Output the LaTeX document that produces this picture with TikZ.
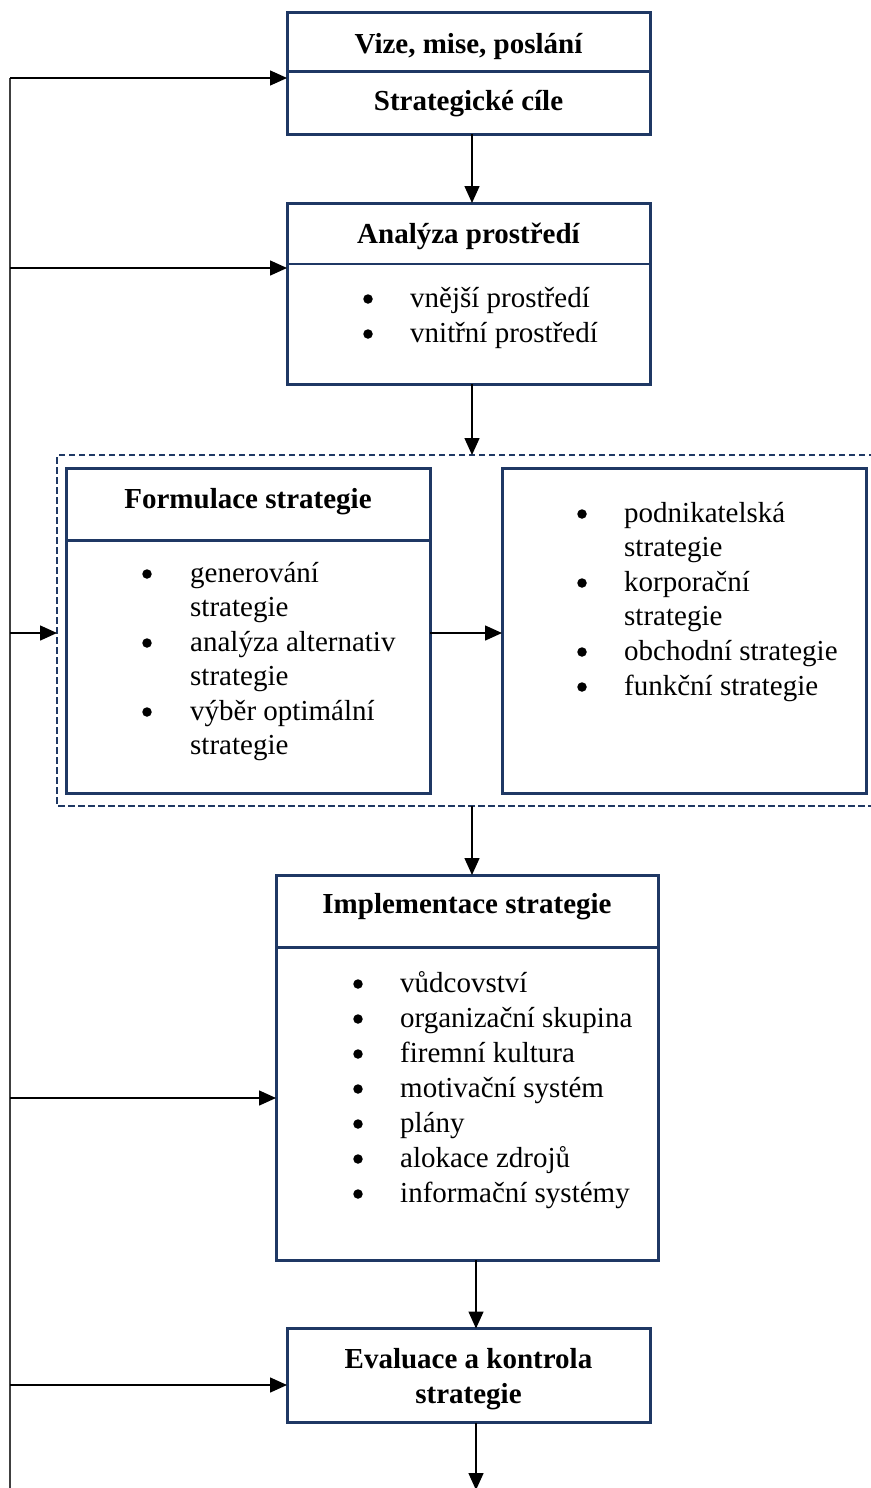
\documentclass[tikz,border=0pt]{standalone}
\usepackage{fontspec}
\setmainfont{Liberation Serif}
\usetikzlibrary{arrows.meta}
\definecolor{navy}{HTML}{1F3864}
\definecolor{fbgray}{HTML}{404040}
\begin{document}
\begin{tikzpicture}[x=1pt,y=-1pt,
  box/.style={draw=navy,line width=3pt,inner sep=0pt,outer sep=0pt},
  divider/.style={draw=navy,line width=3pt},
  thindiv/.style={draw=navy,line width=1.4pt},
  dashbox/.style={draw=navy,line width=2.2pt,dash pattern=on 6.5pt off 3.5pt},
  txt/.style={font=\fontsize{29}{35}\selectfont,anchor=base west,inner sep=0pt},
  ttl/.style={font=\bfseries\fontsize{29}{35}\selectfont,anchor=base,inner sep=0pt},
  bul/.style={circle,fill=black,inner sep=0pt,minimum size=9.5pt,yshift=8pt},
  arr/.style={draw=black,line width=1.5pt,-{Triangle[length=17pt,width=15pt]}},
  fb/.style={draw=fbgray,line width=2pt}]
\useasboundingbox (0,0) rectangle (870,1488);

% ---------- Box 1
\node[box,minimum width=363pt,minimum height=121pt] (B1) at (468.5,73.5) {};
\draw[divider] ([yshift=-59pt]B1.north west) -- ([yshift=-59pt]B1.north east);
\node[ttl] (t1a) at (468.5,53) {Vize, mise, poslání};
\node[ttl] (t1b) at (468.5,110) {Strategické cíle};

% ---------- Box 2
\node[box,minimum width=363pt,minimum height=181pt] (B2) at (468.5,293.5) {};
\draw[thindiv] ([yshift=-61pt]B2.north west) -- ([yshift=-61pt]B2.north east);
\node[ttl] (t2) at (468.5,243) {Analýza prostředí};
\node[bul] (b2a) at (368,307) {};
\node[txt] (l2a) at (410,307) {vnější prostředí};
\node[bul] (b2b) at (368,342) {};
\node[txt] (l2b) at (410,342) {vnitřní prostředí};

% ---------- dashed group
\draw[dashbox] (885,455) -- (57,455) -- (57,806) -- (885,806);
\coordinate (dtop) at (472,455);
\coordinate (dbot) at (472,806);
\coordinate (dleft) at (57,633);

% Formulace
\node[box,minimum width=364pt,minimum height=325pt] (F) at (248,630.5) {};
\draw[divider] ([yshift=-72pt]F.north west) -- ([yshift=-72pt]F.north east);
\node[ttl] (tF) at (248,508) {Formulace strategie};
\node[bul] (bF1) at (147,582) {};
\node[txt] (lF1) at (190,582) {generování};
\node[txt] (lF2) at (190,616) {strategie};
\node[bul] (bF3) at (147,651) {};
\node[txt] (lF3) at (190,651) {analýza alternativ};
\node[txt] (lF4) at (190,685) {strategie};
\node[bul] (bF5) at (147,720) {};
\node[txt] (lF5) at (190,720) {výběr optimální};
\node[txt] (lF6) at (190,754) {strategie};

% Right box
\node[box,minimum width=364pt,minimum height=325pt] (R) at (684,630.5) {};
\node[bul] (bR1) at (582,522) {};
\node[txt] (lR1) at (624,522) {podnikatelská};
\node[txt] (lR2) at (624,556) {strategie};
\node[bul] (bR3) at (582,591) {};
\node[txt] (lR3) at (624,591) {korporační};
\node[txt] (lR4) at (624,625) {strategie};
\node[bul] (bR5) at (582,660) {};
\node[txt] (lR5) at (624,660) {obchodní strategie};
\node[bul] (bR6) at (582,695) {};
\node[txt] (lR6) at (624,695) {funkční strategie};

% ---------- Implementace
\node[box,minimum width=382pt,minimum height=385pt] (B4) at (467,1067.5) {};
\draw[divider] ([yshift=-72pt]B4.north west) -- ([yshift=-72pt]B4.north east);
\node[ttl] (t4) at (467,913) {Implementace strategie};
\node[bul] (b41) at (358,992) {};
\node[txt] (l41) at (400,992) {vůdcovství};
\node[bul] (b42) at (358,1027) {};
\node[txt] (l42) at (400,1027) {organizační skupina};
\node[bul] (b43) at (358,1062) {};
\node[txt] (l43) at (400,1062) {firemní kultura};
\node[bul] (b44) at (358,1097) {};
\node[txt] (l44) at (400,1097) {motivační systém};
\node[bul] (b45) at (358,1132) {};
\node[txt] (l45) at (400,1132) {plány};
\node[bul] (b46) at (358,1167) {};
\node[txt] (l46) at (400,1167) {alokace zdrojů};
\node[bul] (b47) at (358,1202) {};
\node[txt] (l47) at (400,1202) {informační systémy};

% ---------- Evaluace
\node[box,minimum width=363pt,minimum height=94pt] (B5) at (468.5,1375.5) {};
\node[ttl] (t5a) at (468.5,1368) {Evaluace a kontrola};
\node[ttl] (t5b) at (468.5,1403) {strategie};
\coordinate (bend) at (476,1490);

% ---------- main flow arrows
\draw[arr] ([xshift=3.5pt]B1.south) -- ([xshift=3.5pt]B2.north);
\draw[arr] ([xshift=3.5pt]B2.south) -- (dtop);
\draw[arr] ([yshift=-2.5pt]F.east) -- ([yshift=-2.5pt]R.west);
\draw[arr] (dbot) -- ([xshift=5pt]B4.north);
\draw[arr] ([xshift=9pt]B4.south) -- ([xshift=7.5pt]B5.north);
\draw[arr] ([xshift=7.5pt]B5.south) -- (bend);

% ---------- feedback line
\coordinate (f1) at (10,78);
\coordinate (f2) at (10,268);
\coordinate (f3) at (10,633);
\coordinate (f4) at (10,1098);
\coordinate (f5) at (10,1385);
\coordinate (fbb) at (10,1490);
\draw[fb] (f1) -- (fbb);
\draw[arr] (f1) -- (B1.west |- f1);
\draw[arr] (f2) -- (B2.west |- f2);
\draw[arr] (f3) -- (dleft);
\draw[arr] (f4) -- (B4.west |- f4);
\draw[arr] (f5) -- (B5.west |- f5);
\end{tikzpicture}
\end{document}
